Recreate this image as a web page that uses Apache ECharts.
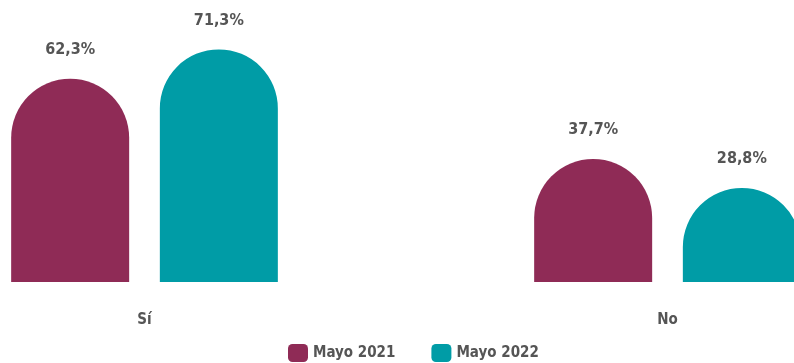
<!DOCTYPE html>
<html>
<head>
<meta charset="utf-8">
<script src="https://cdn.jsdelivr.net/npm/echarts@6/dist/echarts.min.js"></script>
<style>
  html, body { margin: 0; padding: 0; background: #ffffff; }
  #chart { width: 794px; height: 363px; }
</style>
</head>
<body>
<div id="chart"></div>
<script>
var categories = ['Sí', 'No']
var seriesNames = ['Mayo 2021', 'Mayo 2022']
var mayo2021 = [62.3, 37.7]
var mayo2022 = [71.3, 28.8]
var colors = ['#8f2b56', '#009ca6']

var FONT = '"Liberation Sans Narrow", "DejaVu Sans Condensed", Roboto, sans-serif'

var myChart = echarts.init(document.getElementById('chart'))

function fmt(v) {
  return v.toFixed(1).replace('.', ',') + '%'
}

var series = [mayo2021, mayo2022].map(function(data, i) {
  return {
    name: seriesNames[i],
    type: 'bar',
    data: data,
    barWidth: 118,
    barGap: '26%',
    itemStyle: { color: colors[i], borderRadius: [59, 59, 0, 0] },
    label: {
      show: true,
      position: 'top',
      distance: 21,
      color: '#555555',
      fontFamily: FONT,
      fontWeight: 'bold',
      fontSize: 16,
      formatter: function(p) { return fmt(p.value) }
    }
  }
})

var option = {
  backgroundColor: '#ffffff',
  animation: false,
  legend: {
    left: 283,
    top: 339,
    itemWidth: 20,
    itemHeight: 18,
    itemGap: 36,
    icon: 'roundRect',
    data: seriesNames,
    textStyle: {
      color: '#555555',
      fontFamily: FONT,
      fontWeight: 'bold',
      fontSize: 15
    }
  },
  // the plot runs past both edges of the canvas, the right bar is cut off
  grid: {
    left: -117,
    right: -135,
    top: 21,
    bottom: 81,
    containLabel: false,
    outerBoundsMode: 'none'
  },
  xAxis: {
    type: 'category',
    data: categories,
    axisLine: { show: false },
    axisTick: { show: false },
    axisLabel: {
      color: '#555555',
      fontFamily: FONT,
      fontWeight: 'bold',
      fontSize: 15,
      margin: 31
    }
  },
  yAxis: {
    type: 'value',
    min: 0,
    max: 80,
    show: false,
    splitLine: { show: false }
  },
  series: series
}

myChart.setOption(option, true)
window.addEventListener('resize', function() {
  myChart.resize()
})
</script>
</body>
</html>
